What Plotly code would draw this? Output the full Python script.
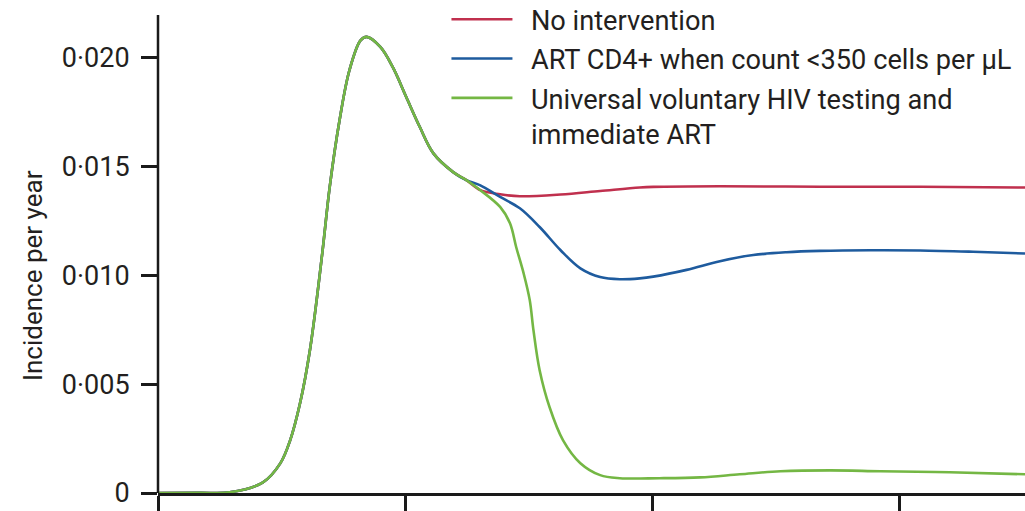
import plotly.graph_objects as go

# Shared pre-intervention trajectory (year, incidence per year)
years_common = [1980, 1983.4, 1985.8, 1988.5, 1989.9, 1990.7, 1991.5, 1992.3, 1993.3,
                1993.9, 1994.7, 1995.5, 1996.4, 1996.9, 1998.0, 1999.0, 2000.1,
                2001.2, 2002.3, 2003.9, 2005.0]
inc_common = [0.0, 0.00001, 0.00003, 0.00049, 0.00136, 0.00242, 0.00412, 0.00656, 0.01101,
              0.01404, 0.01712, 0.01942, 0.02079, 0.02095, 0.02049, 0.01957, 0.01819,
              0.01681, 0.01560, 0.01474, 0.01436]

# No intervention
years_noint = [2006.1, 2007.7, 2009.3, 2012.6, 2015.8, 2019.0, 2020.1, 2025.5, 2033.6, 2041.7, 2050.2]
inc_noint = [0.01391, 0.01372, 0.01363, 0.01371, 0.01387, 0.01403, 0.01406, 0.01409, 0.01407, 0.01407, 0.01403]

# ART CD4+ when count <350 cells per uL
years_art350 = [2006.1, 2007.7, 2009.3, 2010.9, 2012.6, 2014.2, 2015.8, 2017.4, 2019.0, 2020.1,
                2022.8, 2025.5, 2028.2, 2030.9, 2033.6, 2037.7, 2041.7, 2046.0, 2050.2]
inc_art350 = [0.01413, 0.01360, 0.01308, 0.01222, 0.01115, 0.01032, 0.00992, 0.00982, 0.00986, 0.00994,
              0.01025, 0.01065, 0.01093, 0.01106, 0.01112, 0.01115, 0.01114, 0.01108, 0.01100]

# Universal voluntary HIV testing and immediate ART
years_univ = [2006.1, 2007.7, 2008.5, 2009.0, 2009.6, 2010.1, 2010.4, 2010.9, 2011.7, 2012.8,
              2014.2, 2015.8, 2017.4, 2020.6, 2023.9, 2027.1, 2030.4, 2034.4, 2038.5, 2044.1, 2050.2]
inc_univ = [0.01391, 0.01314, 0.01239, 0.01130, 0.01010, 0.00886, 0.00748, 0.00564, 0.00395, 0.00242,
            0.00137, 0.00082, 0.00068, 0.00068, 0.00072, 0.00086, 0.00100, 0.00104, 0.00100, 0.00095, 0.00086]

PAD = "\u00a0\u00a0"
names = [PAD + "No intervention",
         PAD + "ART CD4+ when count &lt;350 cells per µL",
         PAD + "Universal voluntary HIV testing and<br>" + PAD + "immediate ART"]
colors = ["#c0304e", "#1e5b9e", "#74b744"]

y_tickvals = [0, 0.005, 0.010, 0.015, 0.020]
y_ticktext = ["0", "0·005", "0·010", "0·015", "0·020"]
x_tickvals = [1980, 2000, 2020, 2040]
y_axis_top = 0.02196
y_range_top = 0.022646

FONT = "Roboto"
TXT = "#231f20"
AX = "#1a1a1a"

fig = go.Figure()
tails = [(years_noint, inc_noint), (years_art350, inc_art350), (years_univ, inc_univ)]
for i, (name, col, (yx, yv)) in enumerate(zip(names, colors, tails)):
    fig.add_trace(go.Scatter(
        x=years_common + yx, y=inc_common + yv, mode="lines", name=name,
        line=dict(color=col, width=2.6, shape="spline", smoothing=1.0),
        legendgroup=f"g{i}", hoverinfo="skip"))

fig.update_layout(
    width=1025, height=511,
    margin=dict(l=158, r=0, t=0, b=18, autoexpand=False),
    paper_bgcolor="white", plot_bgcolor="white",
    font=dict(family=FONT, size=27, color=TXT),
    showlegend=True,
    legend=dict(x=0.3327, y=1.0101, xanchor="left", yanchor="top",
                bgcolor="rgba(0,0,0,0)", itemwidth=61, valign="top",
                traceorder="grouped", tracegroupgap=1,
                font=dict(family=FONT, size=27.2, color=TXT)),
    xaxis=dict(range=[1980, 2050.2], tickvals=x_tickvals, showticklabels=False,
               ticks="outside", ticklen=25, tickwidth=2.5, tickcolor=AX,
               showline=True, linecolor=AX, linewidth=2.5, automargin=False,
               showgrid=False, zeroline=False),
    yaxis=dict(range=[0, y_range_top], tickvals=y_tickvals, ticktext=y_ticktext,
               ticks="outside", ticklen=16, tickwidth=2.5, tickcolor=AX, automargin=False,
               showline=False, showgrid=False, zeroline=False, ticklabelstandoff=6,
               tickfont=dict(family=FONT, size=27, color=TXT)),
    shapes=[dict(type="line", xref="paper", yref="y", x0=0, x1=0, y0=0, y1=y_axis_top,
                 line=dict(color=AX, width=2.5), layer="above")],
    annotations=[dict(text="Incidence per year", xref="paper", yref="paper",
                      x=-0.1442, y=0.442, textangle=-90, showarrow=False,
                      xanchor="center", yanchor="middle",
                      font=dict(family=FONT, size=26, color=TXT))],
)

fig.write_html("out.html", config={"displayModeBar": False},
               post_script="document.body.style.margin='0';document.body.style.overflow='hidden';")
